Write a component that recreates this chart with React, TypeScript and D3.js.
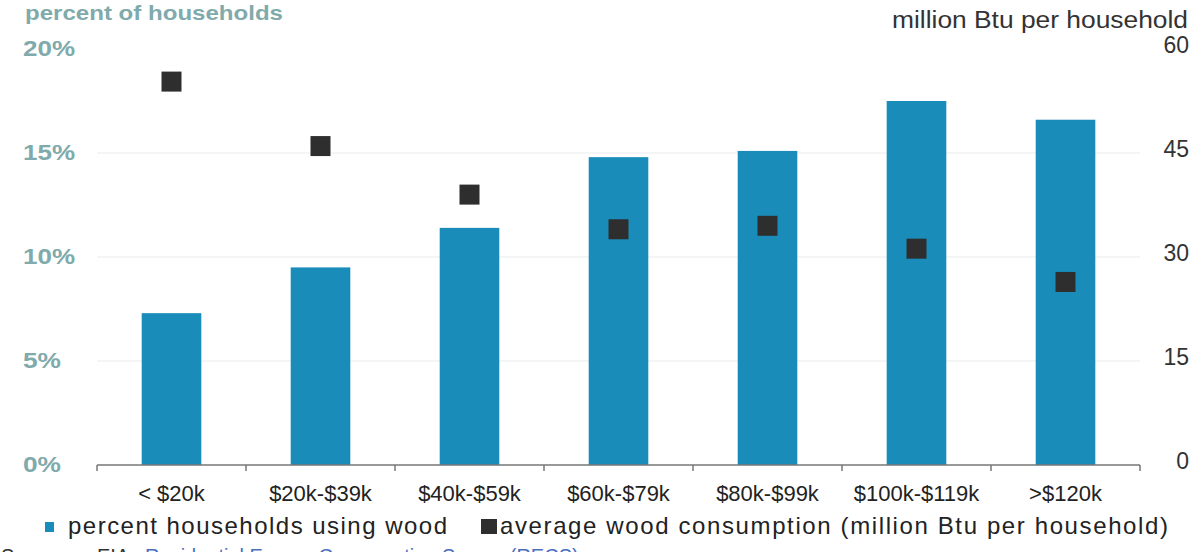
import React from "react";
import * as d3 from "d3";

const categories = ["< $20k", "$20k-$39k", "$40k-$59k", "$60k-$79k", "$80k-$99k", "$100k-$119k", ">$120k"];
const percentUsingWood = [7.3, 9.5, 11.4, 14.8, 15.1, 17.5, 16.6];
const avgConsumption = [55.3, 46.0, 39.0, 34.0, 34.5, 31.2, 26.4];
const leftTicks = [0, 5, 10, 15, 20];
const rightTicks = [0, 15, 30, 45, 60];

const W = 1201;
const H = 552;
const BAR = "#1a8cba";
const MARK = "#2e2e2e";
const LEFT_TXT = "#80aaab";
const FONT = "'Liberation Sans', Arial, sans-serif";

export default function App() {
  const x = d3.scaleBand<string>().domain(categories).range([97, 1140]).paddingInner(0.6).paddingOuter(0.3);
  const yL = d3.scaleLinear().domain([0, 20]).range([465, 49]);
  const yR = d3.scaleLinear().domain([0, 60]).range([465, 49]);
  const step = x.step();
  const bounds = d3.range(categories.length + 1).map((i) => 97 + i * step);
  const sq = 20;

  return (
    <svg width={W} height={H} style={{ position: "absolute", left: 0, top: 0, background: "#fff" }} fontFamily={FONT}>
      {/* faint gridlines */}
      {leftTicks.slice(1, 4).map((t) => (
        <line key={t} x1={97} x2={1140} y1={yL(t)} y2={yL(t)} stroke="#f1f3f3" strokeWidth={1.5} />
      ))}

      {/* axis titles */}
      <text x={25} y={20} fontSize={21} fontWeight="bold" fill={LEFT_TXT} textLength={258} lengthAdjust="spacingAndGlyphs">
        percent of households
      </text>
      <text x={892} y={28} fontSize={23} fill="#333" textLength={296} lengthAdjust="spacingAndGlyphs">
        million Btu per household
      </text>

      {/* left axis labels */}
      {leftTicks.map((t) => (
        <text key={t} x={23} y={yL(t) + 7} fontSize={22} fill={LEFT_TXT} fontWeight="bold"
          textLength={t >= 10 ? 52 : 38} lengthAdjust="spacingAndGlyphs">
          {t}%
        </text>
      ))}
      {/* right axis labels */}
      {rightTicks.map((t) => (
        <text key={t} x={1189} y={yR(t) + 4} fontSize={23} fill="#333" textAnchor="end">
          {t}
        </text>
      ))}

      {/* bars */}
      {categories.map((c, i) => (
        <rect key={c} x={x(c)} y={yL(percentUsingWood[i])} width={x.bandwidth()} height={yL(0) - yL(percentUsingWood[i])} fill={BAR} />
      ))}

      {/* baseline and ticks */}
      <line x1={97} x2={1140} y1={465} y2={465} stroke="#777" strokeWidth={1.5} />
      {bounds.map((b, i) => (
        <line key={i} x1={b} x2={b} y1={465} y2={471} stroke="#777" strokeWidth={1.5} />
      ))}

      {/* square markers */}
      {categories.map((c, i) => (
        <rect key={c} x={(x(c) as number) + x.bandwidth() / 2 - sq / 2} y={yR(avgConsumption[i]) - sq / 2} width={sq} height={sq} fill={MARK} />
      ))}

      {/* category labels */}
      {categories.map((c) => (
        <text key={c} x={(x(c) as number) + x.bandwidth() / 2} y={501} fontSize={22} fill="#222" textAnchor="middle">
          {c}
        </text>
      ))}

      {/* legend */}
      <rect x={45} y={522} width={9} height={10} fill={BAR} />
      <text x={68} y={534} fontSize={24} fill="#222" textLength={379} lengthAdjust="spacing">
        percent households using wood
      </text>
      <rect x={481} y={519} width={16} height={15} fill={MARK} />
      <text x={500} y={534} fontSize={24} fill="#222" textLength={668} lengthAdjust="spacing">
        average wood consumption (million Btu per household)
      </text>

      {/* source line, partly cut by the frame */}
      <text x={1} y={563} fontSize={20} fill="#333">Source:</text>
      <text x={97} y={563} fontSize={20} fill="#333">EIA</text>
      <text x={134} y={563} fontSize={20} fill="#4a6fc0">, Residential Energy Consumption Survey (RECS)</text>
    </svg>
  );
}
